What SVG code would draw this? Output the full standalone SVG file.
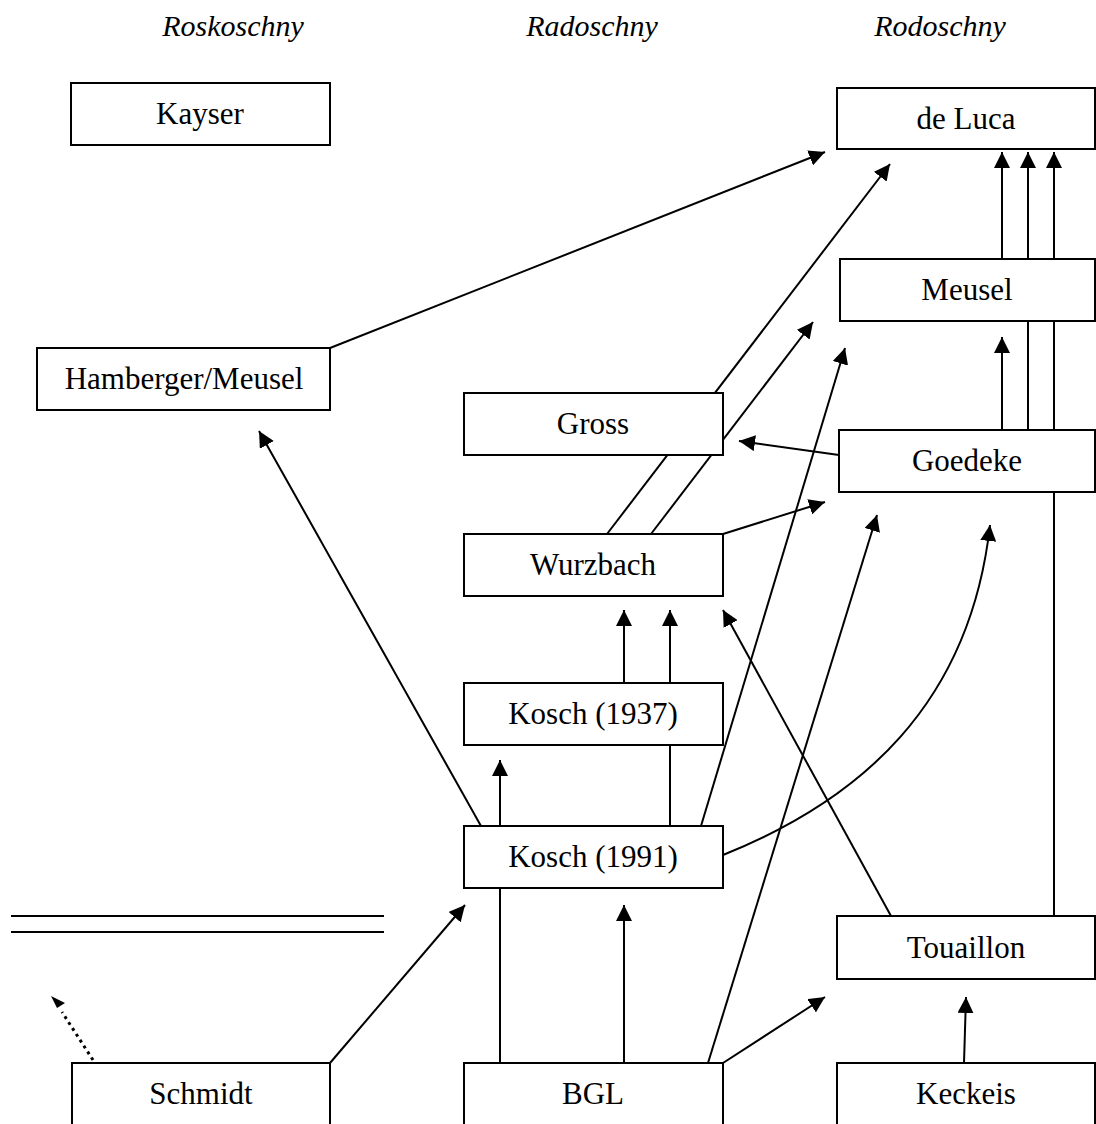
<svg xmlns="http://www.w3.org/2000/svg" width="1096" height="1124" viewBox="0 0 1096 1124">
<style>
.box{fill:#fff;stroke:#000;stroke-width:2}
.lbl{font-family:"Liberation Serif","DejaVu Serif",serif;font-size:31px;fill:#000;text-anchor:middle}
.hd{font-family:"Liberation Serif","DejaVu Serif",serif;font-size:30px;font-style:italic;fill:#000;text-anchor:middle}
.c{fill:none;stroke:#000;stroke-width:2}
.a{marker-end:url(#ah)}
.dot{fill:none;stroke:#000;stroke-width:3;stroke-dasharray:3 4}
</style>
<defs>
<marker id="ah" markerUnits="userSpaceOnUse" markerWidth="17" markerHeight="16" refX="16" refY="8" orient="auto" viewBox="0 0 17 16">
<path d="M0,0 L16,8 L0,16 z" fill="#000"/>
</marker>
</defs>
<rect width="1096" height="1124" fill="#fff"/>
<g id="headings">
<text class="hd" x="233" y="36">Roskoschny</text>
<text class="hd" x="592" y="36">Radoschny</text>
<text class="hd" x="940" y="36">Rodoschny</text>
</g>
<g id="connectors">
<line class="c a" x1="330" y1="348" x2="825" y2="152"/>
<line class="c a" x1="607" y1="534" x2="890" y2="164"/>
<line class="c a" x1="651" y1="534" x2="813" y2="322"/>
<line class="c a" x1="701" y1="826" x2="845" y2="348"/>
<line class="c a" x1="839" y1="455" x2="739" y2="441"/>
<line class="c a" x1="723" y1="534" x2="825" y2="502"/>
<line class="c a" x1="708" y1="1063" x2="877" y2="515"/>
<path class="c a" d="M723,855 C860,800 970,705 990,525"/>
<line class="c a" x1="481" y1="826" x2="259" y2="431"/>
<line class="c a" x1="500" y1="826" x2="500" y2="760"/>
<line class="c a" x1="670" y1="826" x2="670" y2="610"/>
<line class="c a" x1="624" y1="683" x2="624" y2="610"/>
<line class="c a" x1="891" y1="916" x2="723" y2="610"/>
<line class="c a" x1="1002" y1="259" x2="1002" y2="152"/>
<line class="c a" x1="1028" y1="430" x2="1028" y2="152"/>
<line class="c a" x1="1054" y1="916" x2="1054" y2="152"/>
<line class="c a" x1="1002" y1="430" x2="1002" y2="337"/>
<line class="c a" x1="624" y1="1063" x2="624" y2="905"/>
<line class="c" x1="500" y1="1063" x2="500" y2="888"/>
<line class="c a" x1="723" y1="1063" x2="825" y2="997"/>
<line class="c a" x1="964" y1="1063" x2="966" y2="997"/>
<line class="c a" x1="330" y1="1063" x2="465" y2="905"/>
<line class="dot" x1="93" y1="1060" x2="62" y2="1012"/>
<path d="M51,996 L65,1003 L57,1008 z" fill="#000"/>
<line class="c" x1="11" y1="916" x2="384" y2="916"/>
<line class="c" x1="11" y1="932" x2="384" y2="932"/>
</g>
<g id="n-kayser"><rect class="box" x="71" y="83" width="259" height="62"/><text class="lbl" x="200" y="124">Kayser</text></g>
<g id="n-deluca"><rect class="box" x="837" y="88" width="258" height="61"/><text class="lbl" x="966" y="129">de Luca</text></g>
<g id="n-meusel"><rect class="box" x="840" y="259" width="255" height="62"/><text class="lbl" x="967" y="300">Meusel</text></g>
<g id="n-hamberger"><rect class="box" x="37" y="348" width="293" height="62"/><text class="lbl" x="184" y="389">Hamberger/Meusel</text></g>
<g id="n-gross"><rect class="box" x="464" y="393" width="259" height="62"/><text class="lbl" x="593" y="434">Gross</text></g>
<g id="n-goedeke"><rect class="box" x="839" y="430" width="256" height="62"/><text class="lbl" x="967" y="471">Goedeke</text></g>
<g id="n-wurzbach"><rect class="box" x="464" y="534" width="259" height="62"/><text class="lbl" x="593" y="575">Wurzbach</text></g>
<g id="n-kosch1937"><rect class="box" x="464" y="683" width="259" height="62"/><text class="lbl" x="593" y="724">Kosch (1937)</text></g>
<g id="n-kosch1991"><rect class="box" x="464" y="826" width="259" height="62"/><text class="lbl" x="593" y="867">Kosch (1991)</text></g>
<g id="n-touaillon"><rect class="box" x="837" y="916" width="258" height="63"/><text class="lbl" x="966" y="958">Touaillon</text></g>
<g id="n-schmidt"><rect class="box" x="72" y="1063" width="258" height="62"/><text class="lbl" x="201" y="1104">Schmidt</text></g>
<g id="n-bgl"><rect class="box" x="464" y="1063" width="259" height="62"/><text class="lbl" x="593" y="1104">BGL</text></g>
<g id="n-keckeis"><rect class="box" x="837" y="1063" width="258" height="62"/><text class="lbl" x="966" y="1104">Keckeis</text></g>
</svg>
